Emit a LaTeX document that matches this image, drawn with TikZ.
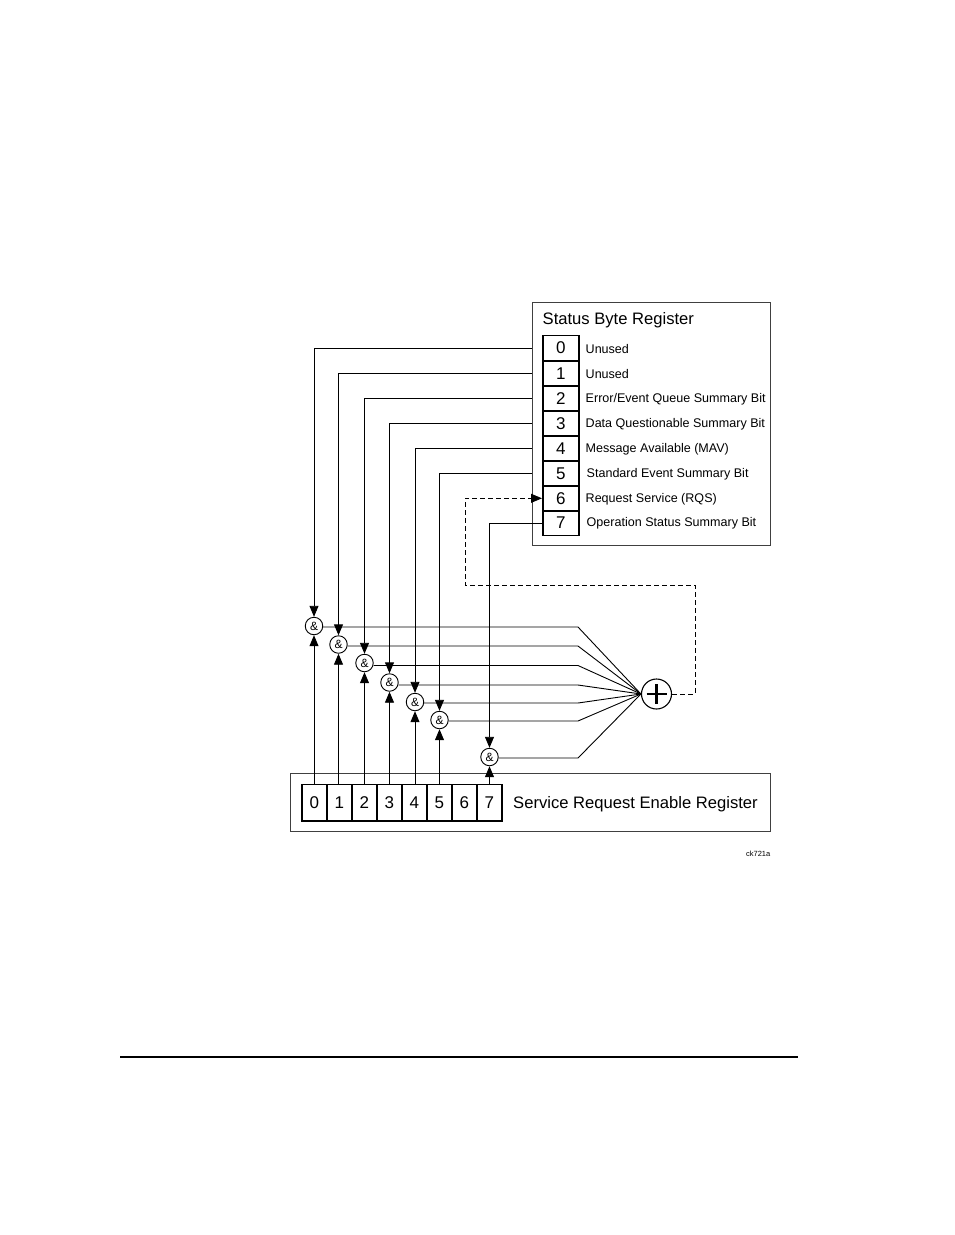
\documentclass[tikz,border=0pt]{standalone}
\usepackage{fontspec}
\setmainfont{Liberation Sans}
\usetikzlibrary{arrows.meta}
\tikzset{
  x=1pt,y=-1pt,
  ln/.style={line width=0.9pt,black},
  arr/.style={ln,-{Triangle[length=11pt,width=9pt]}},
  dashline/.style={ln,dash pattern=on 5pt off 3pt},
  outer/.style={draw=black!75,line width=1pt,fill=white,inner sep=0pt,anchor=north west},
  cell/.style={draw=black,line width=1.6pt,inner sep=0pt,anchor=north west,font=\fontsize{17}{17}\selectfont},
  andg/.style={circle,draw=black,line width=0.9pt,fill=white,minimum size=17.5pt,inner sep=0pt,font=\fontsize{12}{12}\selectfont},
  lab/.style={anchor=west,inner sep=0pt,font=\fontsize{12.55}{12.55}\selectfont},
  big/.style={anchor=west,inner sep=0pt,font=\fontsize{16.6}{16.6}\selectfont},
  tiny/.style={anchor=east,inner sep=0pt,font=\fontsize{7.5}{7.5}\selectfont}
}
\begin{document}
\begin{tikzpicture}
\useasboundingbox (0,0) rectangle (954,1235);
% boxes
\node[outer,minimum width=238.5pt,minimum height=243.5pt] (sbox) at (531.5,301.5) {};
\node[outer,minimum width=480.5pt,minimum height=58pt] (ebox) at (289.5,772.5) {};
\node[big] (stitle) at (542.5,320.5) {Status Byte Register};
\node[big] (etitle) at (513,804) {Service Request Enable Register};
% status cells
\foreach \i/\y/\h in {0/334.5/25.5,1/360/25,2/385/25,3/410/25,4/435/25,5/460/25,6/485/25,7/510/24.5}{
  \node[cell,minimum width=36pt,minimum height=\h pt] (s\i) at (542,\y) {\i};
}
\node[lab] (l0) at (585.5,349) {Unused};
\node[lab] (l1) at (585.5,374) {Unused};
\node[lab] (l2) at (585.5,399) {Error/Event Queue Summary Bit};
\node[lab] (l3) at (585.5,424) {Data Questionable Summary Bit};
\node[lab] (l4) at (585.5,449) {Message Available (MAV)};
\node[lab] (l5) at (586.5,474) {Standard Event Summary Bit};
\node[lab] (l6) at (585.5,499) {Request Service (RQS)};
\node[lab] (l7) at (586.5,523.5) {Operation Status Summary Bit};
% enable cells
\foreach \i/\x in {0/301,1/326,2/351,3/376,4/401,5/426,6/451,7/476}{
  \node[cell,minimum width=25pt,minimum height=36.5pt] (e\i) at (\x,783.5) {\i};
}
% and gates
\node[andg] (a0) at (314,626) {\&};
\node[andg] (a1) at (338.5,644.5) {\&};
\node[andg] (a2) at (364.5,663) {\&};
\node[andg] (a3) at (389.5,682.5) {\&};
\node[andg] (a4) at (415,702) {\&};
\node[andg] (a5) at (439.5,720) {\&};
\node[andg] (a7) at (489.5,757) {\&};
% sum
\node[circle,draw=black,line width=1.1pt,fill=white,minimum size=30pt,inner sep=0pt] (sum) at (656.5,694) {};
\draw[line width=2.8pt] (sum.center) ++(-10,0) -- ++(20,0);
\draw[line width=2.8pt] (sum.center) ++(0,-10) -- ++(0,20);
% status to gates
\foreach \i in {0,1,2,3,4,5,7}{
  \draw[arr] (e\i.north -| a\i) -- (a\i.south);
}
\foreach \i in {0,1,2,3,4,5}{
  \draw[arr] (sbox.west |- s\i) -| (a\i.north);
}
\draw[arr] (s7.west) -| (a7.north);
% gate outputs
\foreach \i/\y in {0/627,1/646,2/665.5,3/685,4/703,5/721,7/758}{
  \coordinate (b\i) at (578,\y);
  \draw[ln] (a\i.east |- b\i) -- (b\i) -- (sum.west);
}
% dashed feedback
\coordinate (d1) at (695,694);
\coordinate (d2) at (695,585);
\coordinate (d3) at (465,585);
\draw[dashline] (sum.east) -- (d1) -- (d2) -- (d3) -- (d3 |- s6) -- (s6.west);
\draw[arr] ([xshift=-12pt]s6.west) -- (s6.west);
% misc
\node[tiny] (ck) at (770.5,853.5) {ck721a};
\coordinate (r1) at (120,1057);
\coordinate (r2) at (798,1057);
\draw[line width=2pt,black] (r1) -- (r2);
\end{tikzpicture}
\end{document}
